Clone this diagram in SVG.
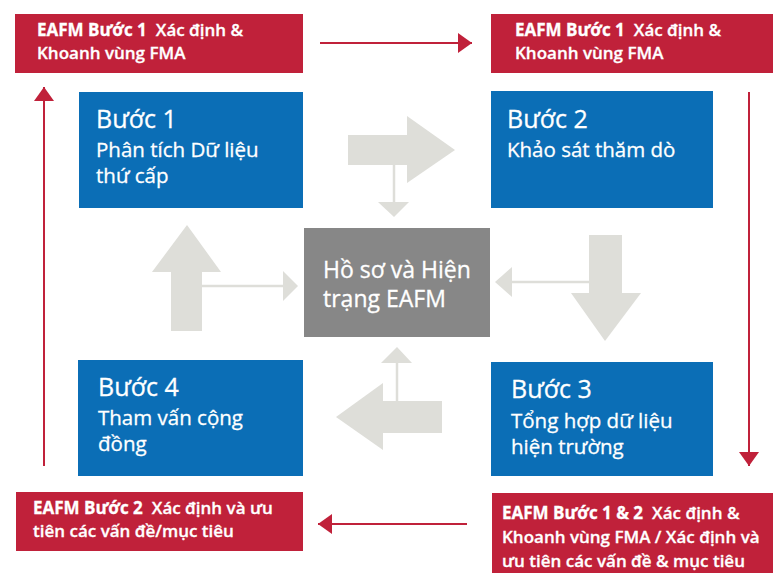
<svg xmlns="http://www.w3.org/2000/svg" width="773" height="573" viewBox="0 0 773 573">
<defs>
<style>
.red{fill:#C0213A}
.blue{fill:#0B6EB6}
.gray{fill:#878787}
.light{fill:#DEDED9}
.lline{stroke:#DEDED9;stroke-width:2.5;fill:none}
.rline{stroke:#C0213A;stroke-width:2;fill:none}
text{font-family:"Open Sans","Liberation Sans",sans-serif;fill:#fff}
.rt{font-size:17px;font-weight:600;stroke:#fff;stroke-width:0.3}
.rb{font-weight:700}
.h{font-size:25px;stroke:#fff;stroke-width:0.3}
.b{font-size:20.5px;stroke:#fff;stroke-width:0.3}
.c{font-size:23px;stroke:#fff;stroke-width:0.3}
</style>
<marker id="ah" viewBox="0 0 14 20" refX="14" refY="10" markerWidth="14" markerHeight="20" markerUnits="userSpaceOnUse" orient="auto">
<path d="M0,0 L14,10 L0,20 Z" fill="#C0213A"/>
</marker>
</defs>
<rect width="773" height="573" fill="#fff"/>

<g id="connectors">
<line class="rline" x1="320" y1="43" x2="472" y2="43" marker-end="url(#ah)"/>
<line class="rline" x1="749" y1="92" x2="749" y2="466" marker-end="url(#ah)"/>
<line class="rline" x1="467" y1="524" x2="318" y2="524" marker-end="url(#ah)"/>
<line class="rline" x1="44" y1="466" x2="44" y2="87" marker-end="url(#ah)"/>
<polygon class="light" points="348,135 407,135 407,116 455,150 407,183 407,165 348,165"/>
<line class="lline" x1="394" y1="165" x2="394" y2="203"/>
<polygon class="light" points="378,202 409,202 394,217"/>
<polygon class="light" points="171,331 171,272 152,272 187,225 221,272 202,272 202,331"/>
<line class="lline" x1="202" y1="286" x2="284" y2="286"/>
<polygon class="light" points="283,271 298,286 283,301"/>
<polygon class="light" points="589,235 622,235 622,293 641,293 605,341 571,293 589,293"/>
<line class="lline" x1="589" y1="282" x2="511" y2="282"/>
<polygon class="light" points="512,267 495,282 512,297"/>
<polygon class="light" points="442,401 442,433 383,433 383,450 336,417 383,383 383,401"/>
<line class="lline" x1="397" y1="401" x2="397" y2="362"/>
<polygon class="light" points="381,363 412,363 397,347"/>
</g>

<g id="eafm-top-left">
<rect class="red" x="15" y="14" width="288" height="59"/>
<text class="rt" x="37" y="36"><tspan class="rb">EAFM Bước 1</tspan><tspan dx="9">Xác định &amp;</tspan></text>
<text class="rt" x="37" y="59">Khoanh vùng FMA</text>
</g>
<g id="eafm-top-right">
<rect class="red" x="491" y="14" width="282" height="59"/>
<text class="rt" x="515" y="36"><tspan class="rb">EAFM Bước 1</tspan><tspan dx="9">Xác định &amp;</tspan></text>
<text class="rt" x="515" y="59">Khoanh vùng FMA</text>
</g>
<g id="eafm-bottom-left">
<rect class="red" x="16" y="492" width="287" height="59"/>
<text class="rt" x="33" y="514"><tspan class="rb">EAFM Bước 2</tspan><tspan dx="9">Xác định và ưu</tspan></text>
<text class="rt" x="33" y="537">tiên các vấn đề/mục tiêu</text>
</g>
<g id="eafm-bottom-right">
<rect class="red" x="492" y="493" width="281" height="80"/>
<text class="rt" x="502" y="519"><tspan class="rb">EAFM Bước 1 &amp; 2</tspan><tspan dx="9">Xác định &amp;</tspan></text>
<text class="rt" x="502" y="543">Khoanh vùng FMA / Xác định và</text>
<text class="rt" x="502" y="567">ưu tiên các vấn đề &amp; mục tiêu</text>
</g>

<g id="step1">
<rect class="blue" x="79" y="92" width="224" height="116"/>
<text class="h" x="96" y="128">Bước 1</text>
<text class="b" x="96" y="157">Phân tích Dữ liệu</text>
<text class="b" x="96" y="183">thứ cấp</text>
</g>
<g id="step2">
<rect class="blue" x="491" y="91" width="222" height="117"/>
<text class="h" x="507" y="128">Bước 2</text>
<text class="b" x="507" y="157">Khảo sát thăm dò</text>
</g>
<g id="step4">
<rect class="blue" x="78" y="360" width="225" height="116"/>
<text class="h" x="98" y="396">Bước 4</text>
<text class="b" x="98" y="425">Tham vấn cộng</text>
<text class="b" x="98" y="451">đồng</text>
</g>
<g id="step3">
<rect class="blue" x="491" y="362" width="222" height="114"/>
<text class="h" x="511" y="398">Bước 3</text>
<text class="b" x="511" y="428">Tổng hợp dữ liệu</text>
<text class="b" x="511" y="454">hiện trường</text>
</g>
<g id="center">
<rect class="gray" x="304" y="228" width="186" height="109"/>
<text class="c" x="323" y="278">Hồ sơ và Hiện</text>
<text class="c" x="323" y="307">trạng EAFM</text>
</g>
</svg>
